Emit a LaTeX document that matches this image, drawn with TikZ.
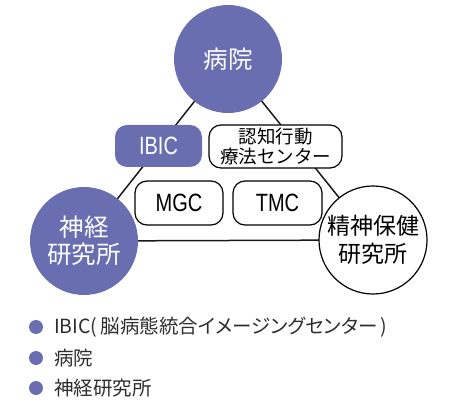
\documentclass[tikz,border=0pt]{standalone}
\usepackage{fontspec}
\setmainfont{Noto Sans CJK JP}
\newfontfamily\condfont[FakeStretch=0.8]{Liberation Sans}
\definecolor{ncblue}{RGB}{104,110,176}
\definecolor{legtext}{RGB}{45,45,45}
\begin{document}
\begin{tikzpicture}[x=1pt,y=-1pt,
  bigcirc/.style={circle, minimum size=108pt, inner sep=0pt, align=center},
  bluecirc/.style={bigcirc, fill=ncblue, text=white, font=\fontsize{24.5}{27}\selectfont},
  whitecirc/.style={bigcirc, draw=black, line width=1.2pt, fill=white, font=\fontsize{23}{28}\selectfont},
  pill/.style={rounded corners=12pt, inner sep=0pt, align=center, minimum height=43pt},
  whitepill/.style={pill, draw=black, line width=1.2pt, fill=white},
  bluepill/.style={pill, fill=ncblue, text=white},
  latin/.style={font=\condfont\fontsize{25}{27}\selectfont},
  link/.style={draw=black!90, line width=1.5pt},
  bullet/.style={circle, fill=ncblue, minimum size=14pt, inner sep=0pt},
  legend/.style={anchor=west, inner sep=0pt, text=legtext, font=\fontsize{19.5}{22}\selectfont}
]
\useasboundingbox (0,0) rectangle (449,403);
% anchor coordinates for links
\coordinate (ch) at (228,59);
\coordinate (cn) at (84,241);
\coordinate (cp) at (373,240);
\draw[link] (ch) -- (cn);
\draw[link] (ch) -- (cp);
\draw[link] (cn) -- (cp);
% circles
\node[bluecirc] (hosp) at (ch) {病院};
\node[bluecirc] (neuro) at (cn) {神経\\研究所};
\node[whitecirc] (psych) at (cp) {精神保健\\研究所};
% boxes
\node[bluepill, latin, minimum width=87pt, minimum height=42pt] (ibic) at (158.5,146) {IBIC};
\node[whitepill, minimum width=133pt, font=\fontsize{18.5}{19.5}\selectfont] (cbt) at (275.5,146.5) {認知行動\\療法センター};
\node[whitepill, latin, minimum width=88pt, minimum height=44pt] (mgc) at (179,203) {MGC};
\node[whitepill, latin, minimum width=89pt, minimum height=44pt] (tmc) at (277.5,203) {TMC};
% legend
\node[bullet] (b1) at (36,327) {};
\node[bullet] (b2) at (36,358) {};
\node[bullet] (b3) at (36,388) {};
\node[legend] (l1) at (54,327) {\addfontfeatures{RawFeature=+palt}IBIC(\,脳病態統合イメージングセンター\,)};
\node[legend] (l2) at (54,358) {病院};
\node[legend] (l3) at (54,388) {神経研究所};
\end{tikzpicture}
\end{document}
